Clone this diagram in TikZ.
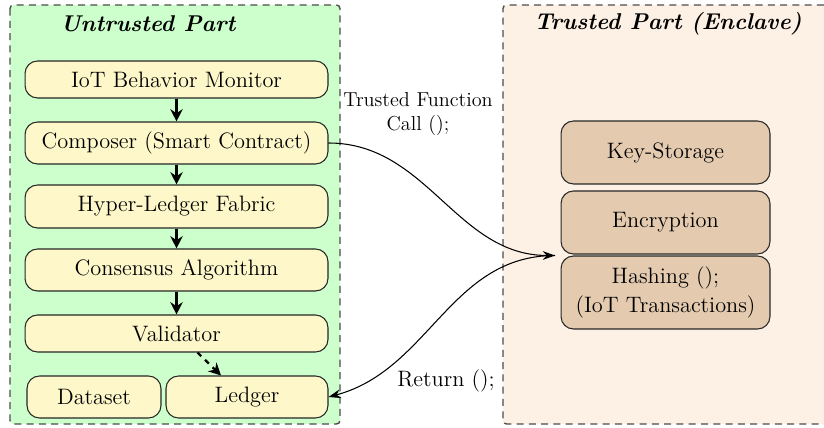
\documentclass[tikz,border=0pt]{standalone}
\usetikzlibrary{arrows.meta}
\definecolor{untrustbg}{HTML}{CCFFCC}
\definecolor{trustbg}{HTML}{FDF0E5}
\definecolor{ubox}{HTML}{FEF7C9}
\definecolor{tbox}{HTML}{E4CBB0}
\tikzset{
	part/.style={draw=black!70, thick, dash pattern=on 4pt off 3pt, rounded corners=2pt},
	ublock/.style={draw=black!85, semithick, fill=ubox, rounded corners=0.25cm, font=\fontsize{12.7}{15}\selectfont, align=center, inner sep=0pt},
	tblock/.style={draw=black!85, semithick, fill=tbox, rounded corners=0.25cm, font=\fontsize{12.7}{15}\selectfont, align=center, inner sep=0pt, minimum width=4.18cm},
	flow/.style={-{Stealth[length=7pt,width=7pt]}, line width=1.3pt},
	call/.style={-{Stealth[length=7pt,width=5pt]}, semithick}
}
\begin{document}
\begin{tikzpicture}[x=0.02cm,y=-0.02cm]
				\useasboundingbox (0,0) rectangle (824,428);
				% the two parts
				\draw [part, fill=untrustbg] (10,5) rectangle (340,424);
				\fill [trustbg] (503,5) rectangle (824,424);
				\draw [part] (824,5) -- (503,5) -- (503,424) -- (824,424);
				\node [font=\fontsize{13}{15}\selectfont\bfseries\itshape] (ut) at (148,24) {Untrusted Part};
				\node [font=\fontsize{13}{15}\selectfont\bfseries\itshape] (tt) at (668,24) {Trusted Part (Enclave)};
				% untrusted blocks
				\node [ublock, minimum width=6.06cm, minimum height=0.74cm] (ibm) at (176.5,79.5) {IoT Behavior Monitor};
				\node [ublock, minimum width=6.06cm, minimum height=0.84cm] (comp) at (176.5,143) {Composer (Smart Contract)};
				\node [ublock, minimum width=6.06cm, minimum height=0.86cm] (hlf) at (176.5,206.5) {Hyper-Ledger Fabric};
				\node [ublock, minimum width=6.06cm, minimum height=0.84cm] (cons) at (176.5,270) {Consensus Algorithm};
				\node [ublock, minimum width=6.06cm, minimum height=0.74cm] (val) at (176.5,333.5) {Validator};
				\node [ublock, minimum width=2.68cm, minimum height=0.84cm] (data) at (94,397) {Dataset};
				\node [ublock, minimum width=3.24cm, minimum height=0.84cm] (led) at (247,397) {Ledger};
				\draw [flow] (ibm) -- (comp);
				\draw [flow] (comp) -- (hlf);
				\draw [flow] (hlf) -- (cons);
				\draw [flow] (cons) -- (val);
				\draw [flow, dashed] ([xshift=0.42cm]val.south) -- ([xshift=-0.52cm]led.north);
				% trusted blocks
				\node [tblock, minimum height=1.26cm] (key) at (665.5,152.5) {Key-Storage};
				\node [tblock, minimum height=1.26cm] (enc) at (665.5,222.5) {Encryption};
				\node [tblock, minimum height=1.46cm] (hash) at (665.5,292.5) {Hashing ();\\[2pt](IoT Transactions)};
				\coordinate (port) at (555,255.5);
				% calls between the parts
				\draw [call] (comp.east) to[out=0,in=180] (port);
				\draw [call] (port) to[out=180,in=15] (led.east);
				\node [font=\fontsize{11.5}{14}\selectfont, align=center] (tfc) at (418,114) {Trusted Function\\Call ();};
				\node [font=\fontsize{12.7}{15}\selectfont, anchor=east] (ret) at (501,381) {Return ();};
			\end{tikzpicture}
\end{document}
